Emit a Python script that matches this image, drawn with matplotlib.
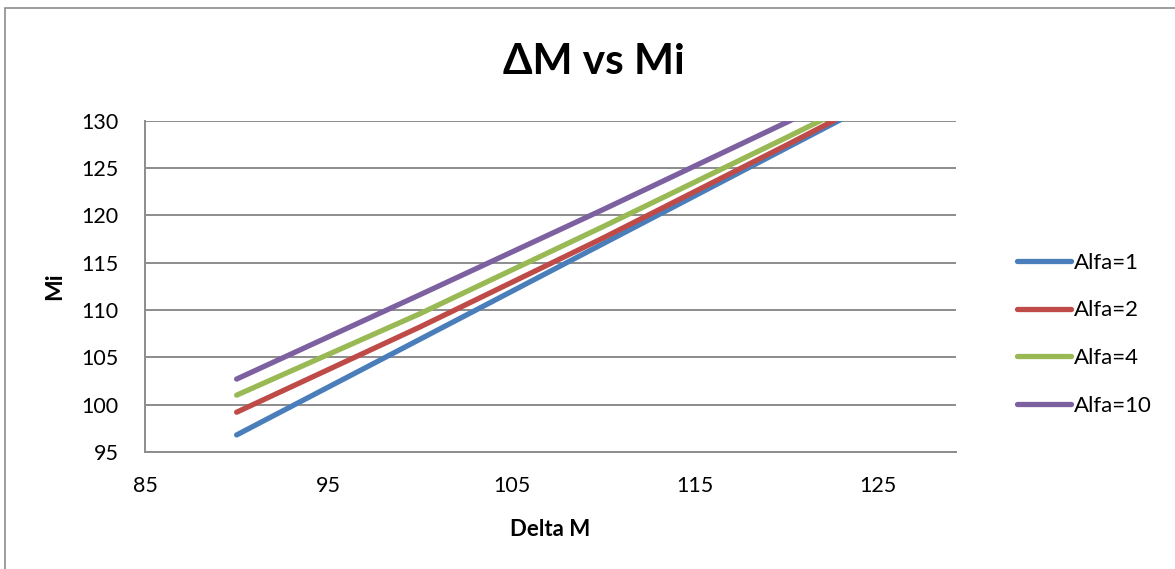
import matplotlib
matplotlib.use("Agg")
import matplotlib.pyplot as plt
from matplotlib.patches import Rectangle

plt.rcParams['font.family'] = ['Lato', 'DejaVu Sans']

# Delta M on the x axis, Mi for each alfa
delta_m = [90, 100, 110, 120, 130]
mi_alfa1 = [96.8, 106.9, 117.0, 127.1, 137.2]
mi_alfa2 = [99.2, 108.2, 117.6, 127.4, 137.4]
mi_alfa4 = [101.0, 109.6, 118.8, 128.2, 137.8]
mi_alfa10 = [102.7, 111.6, 120.6, 129.8, 139.3]

labels = ['Alfa=1', 'Alfa=2', 'Alfa=4', 'Alfa=10']
colors = ['#4A7EBB', '#BE4B48', '#98B954', '#7D60A0']
x_ticks = [85, 95, 105, 115, 125]
y_ticks = [95, 100, 105, 110, 115, 120, 125, 130]

GRID = '#8C8C8C'

fig = plt.figure(figsize=(11.75, 5.69), dpi=100)
ax = fig.add_axes([145 / 1175, 1 - 452 / 569, (956 - 145) / 1175, (452 - 120.5) / 569])

for ys, lab, col in zip([mi_alfa1, mi_alfa2, mi_alfa4, mi_alfa10], labels, colors):
    ax.plot(delta_m, ys, color=col, lw=3.8, solid_capstyle='round', label=lab, zorder=3)

ax.set_xlim(85, 129.25)
ax.set_ylim(95, 130)
ax.set_xticks(x_ticks)
ax.set_yticks(y_ticks)
ax.tick_params(length=0, labelsize=15.5)
ax.tick_params(axis='y', pad=19)
ax.tick_params(axis='x', pad=17)

ax.yaxis.grid(True, color=GRID, lw=1.4)
ax.set_axisbelow(True)
for side in ['top', 'right']:
    ax.spines[side].set_visible(False)
for side in ['left', 'bottom']:
    ax.spines[side].set_color(GRID)
    ax.spines[side].set_linewidth(1.4)

ax.set_xlabel('Delta M', fontsize=16, fontweight='bold', labelpad=17)
ax.set_ylabel('Mi', fontsize=16.5, fontweight='bold', labelpad=12)

fig.text(594 / 1175, 1 - 62 / 569, 'ΔM vs Mi', fontsize=30.5, fontweight='bold',
         ha='center', va='center')

leg = ax.legend(loc='center left', bbox_to_anchor=(1.05, 0.355), frameon=False,
                fontsize=16, handlelength=2.45, handletextpad=0.13, labelspacing=1.25)

# chart area border
fig.patches.append(Rectangle((5 / 1175, -0.1), 2, 1.1 - 8 / 569, transform=fig.transFigure,
                             fill=False, edgecolor=GRID, lw=1.2))

fig.savefig('out.png', dpi=100)
